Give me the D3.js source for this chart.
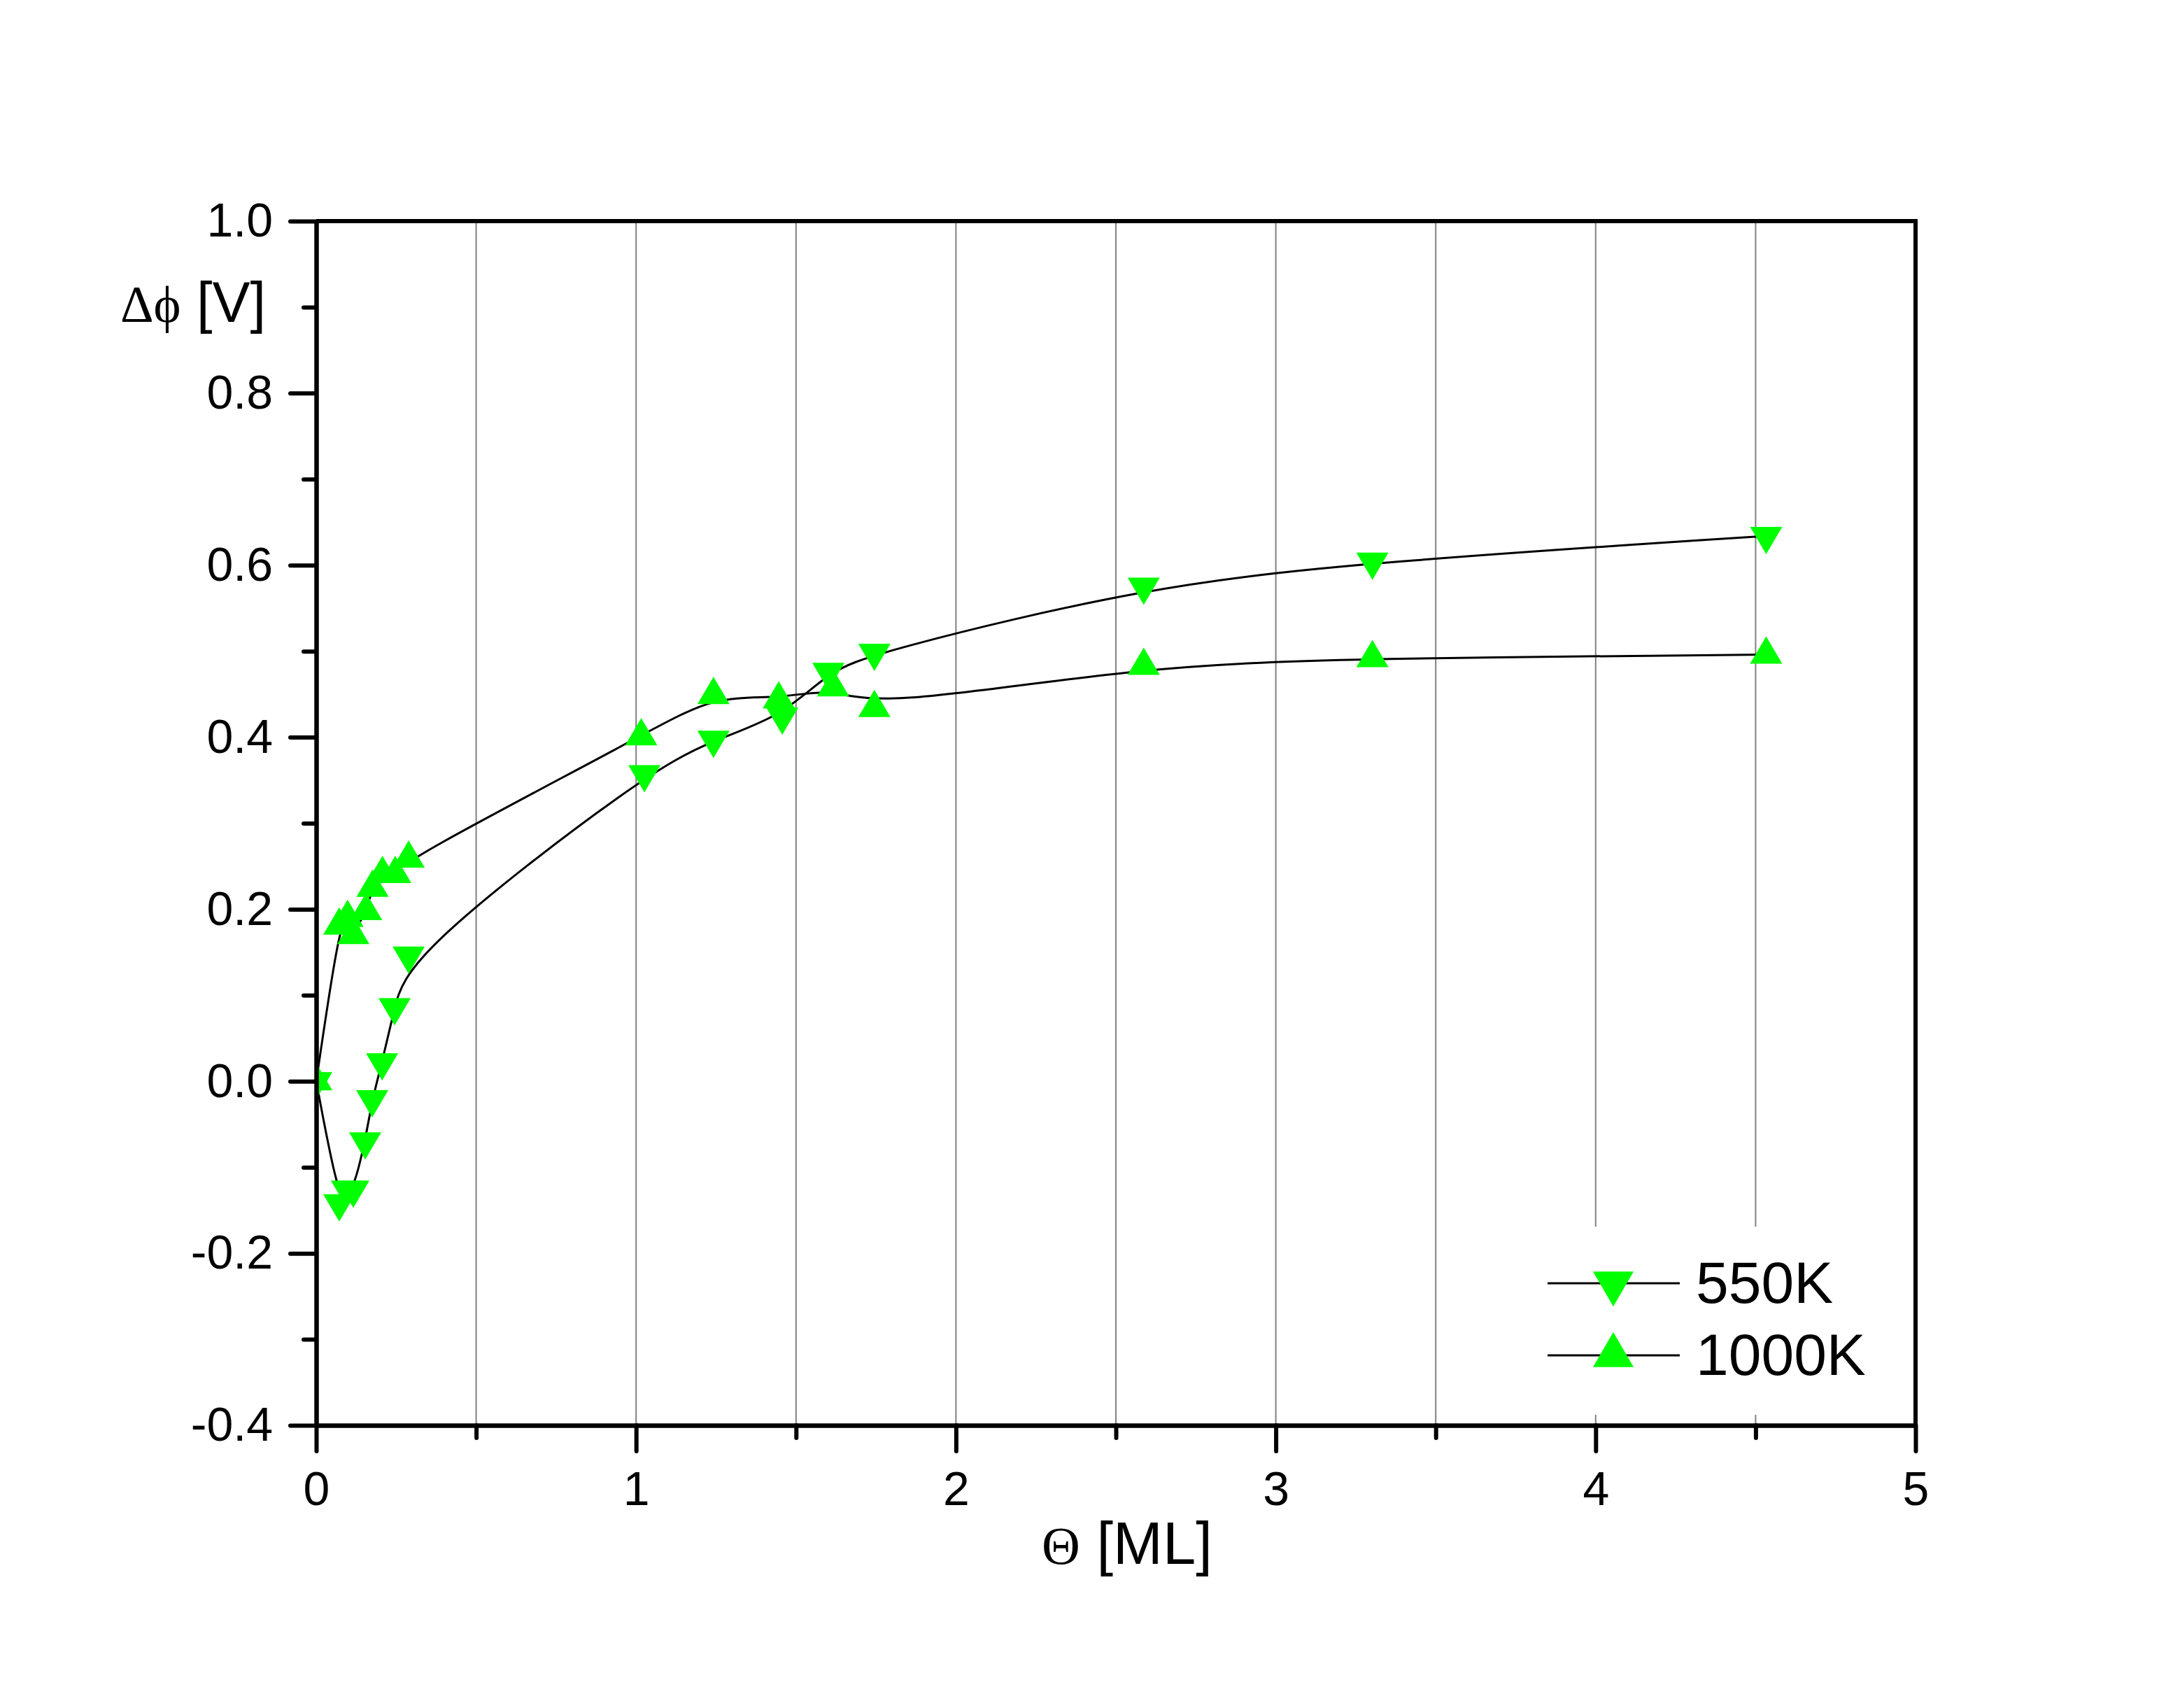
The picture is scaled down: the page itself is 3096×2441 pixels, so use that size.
<!DOCTYPE html>
<html>
<head>
<meta charset="utf-8">
<script src="https://cdn.jsdelivr.net/npm/d3@7"></script>
<style>
  html, body { margin: 0; padding: 0; background: #ffffff; }
  svg { display: block; }
</style>
</head>
<body>
<script>
// ---- Data ----
const seriesNames = ["550K", "1000K"];

const theta550 = [0, 0.072, 0.096, 0.116, 0.153, 0.175, 0.206, 0.245, 0.289, 1.026, 1.242, 1.457, 1.601, 1.745, 2.587, 3.302, 4.533];
const dphi550  = [0, -0.142, -0.126, -0.126, -0.070, -0.021, 0.022, 0.086, 0.146, 0.357, 0.397, 0.424, 0.476, 0.498, 0.575, 0.604, 0.634];

const theta1000 = [0, 0.072, 0.098, 0.116, 0.156, 0.176, 0.207, 0.247, 0.289, 1.016, 1.242, 1.446, 1.616, 1.745, 2.587, 3.302, 4.533];
const dphi1000  = [0, 0.181, 0.190, 0.170, 0.198, 0.225, 0.241, 0.241, 0.259, 0.401, 0.449, 0.444, 0.458, 0.434, 0.483, 0.492, 0.496];

const xMajorTicks = [0, 1, 2, 3, 4, 5];
const xMinorTicks = [0.5, 1.5, 2.5, 3.5, 4.5];
const xGridValues = [0.5, 1, 1.5, 2, 2.5, 3, 3.5, 4, 4.5];
const yMajorTicks = [-0.4, -0.2, 0.0, 0.2, 0.4, 0.6, 0.8, 1.0];
const yMinorTicks = [-0.3, -0.1, 0.1, 0.3, 0.5, 0.7, 0.9];

(function () {
// ---- Layout ----
const W = 3096, H = 2441;
const pLeft = 452, pRight = 2738, pTop = 316, pBottom = 2037;
const SANS = "'Liberation Sans', Arial, sans-serif";
const SERIF = "'Liberation Serif', 'Times New Roman', serif";
const GREEN = "#00ff00";

const svg = d3.select("body").append("svg").attr("width", W).attr("height", H);
svg.append("rect").attr("width", W).attr("height", H).attr("fill", "#ffffff");

const x = d3.scaleLinear().domain([0, 5]).range([pLeft, pRight]);
const y = d3.scaleLinear().domain([-0.4, 1.0]).range([pBottom, pTop]);

svg.append("defs").append("clipPath").attr("id", "plotclip")
  .append("rect").attr("x", pLeft).attr("y", pTop)
  .attr("width", pRight - pLeft).attr("height", pBottom - pTop);

// gridlines
svg.append("g").selectAll("line").data(xGridValues).join("line")
  .attr("x1", d => x(d)).attr("x2", d => x(d))
  .attr("y1", y(1.0)).attr("y2", y(-0.4))
  .attr("stroke", "#808080").attr("stroke-width", 2);

// legend background (hides gridlines)
svg.append("rect").attr("x", 2195).attr("y", 1753).attr("width", 538).attr("height", 269)
  .attr("fill", "#ffffff");

// series
const series = [
  { name: seriesNames[0], pts: theta550.map((t, i) => [t, dphi550[i]]), dir: "down" },
  { name: seriesNames[1], pts: theta1000.map((t, i) => [t, dphi1000[i]]), dir: "up" }
];

function triPath(w, h, dir) {
  if (dir === "up") return `M0,${-2*h/3}L${w/2},${h/3}L${-w/2},${h/3}Z`;
  return `M0,${2*h/3}L${w/2},${-h/3}L${-w/2},${-h/3}Z`;
}

const plot = svg.append("g").attr("clip-path", "url(#plotclip)");
const line = d3.line().x(d => x(d[0])).y(d => y(d[1])).curve(d3.curveBasis);

series.forEach(s => {
  plot.append("path").attr("d", line(s.pts))
    .attr("fill", "none").attr("stroke", "#000").attr("stroke-width", 3);
});
series.forEach(s => {
  plot.append("g").selectAll("path").data(s.pts).join("path")
    .attr("transform", d => `translate(${x(d[0])},${y(d[1])})`)
    .attr("d", triPath(46, 39, s.dir))
    .attr("fill", GREEN);
});

// axes
function styleAxis(g) {
  g.selectAll(".domain").attr("stroke", "#000").attr("stroke-width", 6);
  g.selectAll(".tick line").attr("stroke", "#000").attr("stroke-width", 6).attr("stroke-linecap", "round");
  g.selectAll(".tick text").attr("font-family", SANS).attr("font-size", 68).attr("fill", "#000");
}

const fmtY = d => d3.format(".1f")(d).replace("\u2212", "-");

const xAxisMinor = svg.append("g").attr("transform", `translate(0,${pBottom})`)
  .call(d3.axisBottom(x).tickValues(xMinorTicks).tickSize(18).tickSizeOuter(0).tickFormat(""));
styleAxis(xAxisMinor);
const xAxis = svg.append("g").attr("transform", `translate(0,${pBottom})`)
  .call(d3.axisBottom(x).tickValues(xMajorTicks).tickSize(37).tickSizeOuter(0).tickPadding(29).tickFormat(d3.format("d")));
styleAxis(xAxis);

const yAxisMinor = svg.append("g").attr("transform", `translate(${pLeft},0)`)
  .call(d3.axisLeft(y).tickValues(yMinorTicks).tickSize(18).tickSizeOuter(0).tickFormat(""));
styleAxis(yAxisMinor);
const yAxis = svg.append("g").attr("transform", `translate(${pLeft},0)`)
  .call(d3.axisLeft(y).tickValues(yMajorTicks).tickSize(37).tickSizeOuter(0).tickPadding(25).tickFormat(fmtY));
styleAxis(yAxis);

// top and right frame
svg.append("path")
  .attr("d", `M${x(0)},${y(1.0)}L${x(5)},${y(1.0)}L${x(5)},${y(-0.4)}`)
  .attr("fill", "none").attr("stroke", "#000").attr("stroke-width", 6);

// axis titles
const yl = svg.append("text").attr("x", 172).attr("y", 460).attr("fill", "#000");
yl.append("tspan").attr("font-family", SERIF).attr("font-size", 74).text("Δϕ");
yl.append("tspan").attr("font-family", SANS).attr("font-size", 81).text(" [V]");

const xl = svg.append("text").attr("x", 1489).attr("y", 2235).attr("fill", "#000");
xl.append("tspan").attr("font-family", SERIF).attr("font-size", 76).text("Θ");
xl.append("tspan").attr("font-family", SANS).attr("font-size", 85).text(" [ML]");

// legend
const legendY = [1834, 1937];
series.forEach((s, i) => {
  const g = svg.append("g");
  g.append("line").attr("x1", 2212).attr("x2", 2401)
    .attr("y1", legendY[i]).attr("y2", legendY[i])
    .attr("stroke", "#000").attr("stroke-width", 3);
  g.append("path").attr("transform", `translate(2306,${legendY[i]})`)
    .attr("d", triPath(58, 50, s.dir)).attr("fill", GREEN);
  g.append("text").attr("x", 2424).attr("y", legendY[i] + 28)
    .attr("font-family", SANS).attr("font-size", 84).attr("fill", "#000")
    .text(s.name);
});
})();
</script>
</body>
</html>
